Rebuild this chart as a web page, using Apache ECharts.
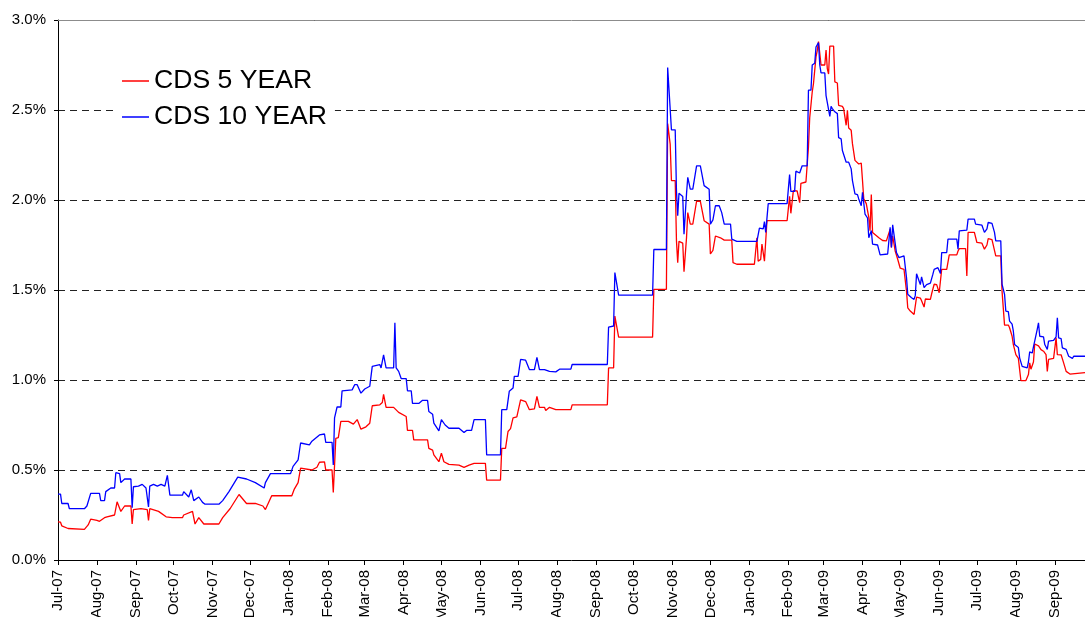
<!DOCTYPE html>
<html><head><meta charset="utf-8">
<script src="https://cdn.jsdelivr.net/npm/echarts@6/dist/echarts.min.js"></script>
<style>html,body{margin:0;padding:0;background:#fff}#c{width:1085px;height:617px}</style>
</head><body><div id="c"></div>
<script>
const seriesNames = ['CDS 5 YEAR', 'CDS 10 YEAR'];
const monthNames = ['Jan','Feb','Mar','Apr','May','Jun','Jul','Aug','Sep','Oct','Nov','Dec'];
const yTicks = [0, 0.5, 1.0, 1.5, 2.0, 2.5, 3.0];

const cds10Dates = ['2007-07-01','2007-07-03','2007-07-04','2007-07-09','2007-07-10','2007-07-22','2007-07-24','2007-07-27','2007-08-03','2007-08-04','2007-08-07','2007-08-08','2007-08-12','2007-08-15','2007-08-16','2007-08-19','2007-08-20','2007-08-23','2007-08-28','2007-08-29','2007-08-30','2007-09-03','2007-09-06','2007-09-09','2007-09-11','2007-09-12','2007-09-15','2007-09-18','2007-09-21','2007-09-24','2007-09-26','2007-09-28','2007-10-08','2007-10-09','2007-10-13','2007-10-15','2007-10-17','2007-10-21','2007-10-24','2007-10-26','2007-11-06','2007-11-09','2007-11-14','2007-11-21','2007-11-28','2007-12-05','2007-12-12','2007-12-13','2007-12-17','2008-01-02','2008-01-04','2008-01-08','2008-01-10','2008-01-17','2008-01-19','2008-01-25','2008-01-29','2008-01-30','2008-02-04','2008-02-05','2008-02-06','2008-02-08','2008-02-11','2008-02-12','2008-02-20','2008-02-22','2008-02-24','2008-02-27','2008-03-01','2008-03-05','2008-03-07','2008-03-13','2008-03-14','2008-03-16','2008-03-18','2008-03-24','2008-03-25','2008-03-26','2008-03-28','2008-03-30','2008-04-03','2008-04-04','2008-04-07','2008-04-08','2008-04-13','2008-04-16','2008-04-20','2008-04-21','2008-04-24','2008-04-25','2008-04-29','2008-05-01','2008-05-04','2008-05-07','2008-05-15','2008-05-19','2008-05-21','2008-05-25','2008-05-27','2008-06-05','2008-06-06','2008-06-17','2008-06-18','2008-06-22','2008-06-24','2008-06-27','2008-06-28','2008-07-01','2008-07-03','2008-07-07','2008-07-10','2008-07-14','2008-07-16','2008-07-18','2008-07-22','2008-07-26','2008-07-31','2008-08-03','2008-08-12','2008-08-13','2008-09-10','2008-09-11','2008-09-15','2008-09-16','2008-09-19','2008-10-16','2008-10-17','2008-10-27','2008-10-28','2008-10-31','2008-11-03','2008-11-04','2008-11-05','2008-11-06','2008-11-09','2008-11-10','2008-11-12','2008-11-13','2008-11-15','2008-11-17','2008-11-20','2008-11-23','2008-11-26','2008-11-30','2008-12-01','2008-12-03','2008-12-05','2008-12-08','2008-12-10','2008-12-12','2008-12-17','2008-12-18','2008-12-22','2009-01-07','2009-01-08','2009-01-09','2009-01-12','2009-01-13','2009-01-14','2009-01-16','2009-01-31','2009-02-02','2009-02-03','2009-02-06','2009-02-07','2009-02-10','2009-02-11','2009-02-12','2009-02-16','2009-02-17','2009-02-19','2009-02-20','2009-02-22','2009-02-23','2009-02-25','2009-02-26','2009-02-27','2009-03-02','2009-03-03','2009-03-04','2009-03-06','2009-03-07','2009-03-08','2009-03-10','2009-03-12','2009-03-13','2009-03-15','2009-03-16','2009-03-19','2009-03-21','2009-03-23','2009-03-24','2009-03-26','2009-03-28','2009-03-29','2009-03-31','2009-04-01','2009-04-03','2009-04-05','2009-04-06','2009-04-08','2009-04-09','2009-04-13','2009-04-15','2009-04-21','2009-04-23','2009-04-24','2009-04-25','2009-04-26','2009-04-28','2009-04-30','2009-05-01','2009-05-04','2009-05-06','2009-05-07','2009-05-10','2009-05-12','2009-05-13','2009-05-14','2009-05-16','2009-05-17','2009-05-18','2009-05-20','2009-05-22','2009-05-25','2009-05-27','2009-05-28','2009-05-29','2009-05-31','2009-06-02','2009-06-03','2009-06-07','2009-06-08','2009-06-15','2009-06-16','2009-06-17','2009-06-23','2009-06-24','2009-06-29','2009-06-30','2009-07-05','2009-07-07','2009-07-09','2009-07-10','2009-07-13','2009-07-15','2009-07-16','2009-07-20','2009-07-21','2009-07-23','2009-07-24','2009-07-26','2009-07-27','2009-07-29','2009-07-30','2009-07-31','2009-08-03','2009-08-04','2009-08-06','2009-08-10','2009-08-11','2009-08-12','2009-08-14','2009-08-15','2009-08-16','2009-08-18','2009-08-19','2009-08-20','2009-08-23','2009-08-24','2009-08-26','2009-08-27','2009-08-31','2009-09-02','2009-09-03','2009-09-04','2009-09-06','2009-09-07','2009-09-10','2009-09-12','2009-09-15','2009-09-16','2009-09-25'];
const cds10Values = [0.366,0.366,0.314,0.314,0.286,0.285,0.30,0.37,0.37,0.33,0.33,0.38,0.40,0.40,0.485,0.48,0.43,0.45,0.45,0.29,0.407,0.41,0.42,0.40,0.295,0.41,0.42,0.41,0.42,0.41,0.47,0.36,0.36,0.38,0.35,0.39,0.33,0.35,0.32,0.31,0.31,0.33,0.38,0.46,0.45,0.43,0.40,0.43,0.48,0.48,0.52,0.556,0.65,0.64,0.66,0.695,0.70,0.654,0.654,0.528,0.79,0.85,0.85,0.94,0.945,0.974,0.974,0.927,0.95,0.965,1.076,1.086,1.067,1.14,1.067,1.067,1.318,1.067,1.048,1.008,1.008,0.94,0.94,0.87,0.87,0.887,0.887,0.825,0.81,0.76,0.717,0.78,0.75,0.732,0.732,0.708,0.72,0.72,0.78,0.78,0.584,0.584,0.835,0.835,0.937,0.955,1.02,1.02,1.114,1.11,1.058,1.058,1.126,1.058,1.058,1.048,1.045,1.06,1.06,1.086,1.086,1.294,1.30,1.597,1.472,1.472,1.725,1.725,2.736,2.39,2.39,2.05,1.913,2.037,2.02,1.81,2.034,2.126,2.06,2.06,2.19,2.19,2.08,2.06,1.866,1.89,1.968,1.968,1.93,1.866,1.866,1.783,1.77,1.77,1.76,1.844,1.84,1.88,1.82,1.98,1.98,2.141,2.048,2.048,2.16,2.15,2.14,2.19,2.19,2.61,2.61,2.75,2.76,2.85,2.874,2.75,2.706,2.706,2.58,2.57,2.465,2.52,2.508,2.49,2.48,2.346,2.34,2.275,2.21,2.21,2.173,2.108,2.034,2.03,2.006,1.968,2.043,1.922,1.90,1.79,1.83,1.755,1.75,1.695,1.70,1.848,1.736,1.862,1.86,1.708,1.68,1.69,1.69,1.569,1.476,1.457,1.448,1.47,1.59,1.55,1.53,1.573,1.513,1.53,1.538,1.588,1.615,1.624,1.624,1.591,1.708,1.708,1.783,1.783,1.727,1.829,1.833,1.894,1.894,1.866,1.86,1.82,1.84,1.875,1.87,1.82,1.773,1.773,1.532,1.476,1.383,1.38,1.327,1.31,1.271,1.197,1.18,1.123,1.076,1.067,1.10,1.156,1.15,1.184,1.184,1.281,1.318,1.243,1.24,1.197,1.17,1.216,1.22,1.24,1.346,1.234,1.23,1.178,1.17,1.132,1.12,1.132,1.132];

const cds5Dates = ['2007-07-01','2007-07-03','2007-07-04','2007-07-09','2007-07-22','2007-07-25','2007-07-27','2007-08-01','2007-08-03','2007-08-07','2007-08-09','2007-08-15','2007-08-17','2007-08-20','2007-08-23','2007-08-28','2007-08-29','2007-08-30','2007-09-05','2007-09-10','2007-09-11','2007-09-12','2007-09-19','2007-09-25','2007-09-30','2007-10-08','2007-10-09','2007-10-16','2007-10-18','2007-10-21','2007-10-25','2007-11-01','2007-11-06','2007-11-09','2007-11-15','2007-11-22','2007-11-28','2007-12-05','2007-12-11','2007-12-13','2007-12-18','2008-01-03','2008-01-05','2008-01-08','2008-01-10','2008-01-19','2008-01-23','2008-01-25','2008-01-29','2008-01-30','2008-02-04','2008-02-05','2008-02-07','2008-02-09','2008-02-11','2008-02-17','2008-02-18','2008-02-21','2008-02-24','2008-02-27','2008-03-02','2008-03-05','2008-03-07','2008-03-13','2008-03-15','2008-03-16','2008-03-18','2008-03-24','2008-03-28','2008-04-03','2008-04-04','2008-04-08','2008-04-09','2008-04-20','2008-04-21','2008-04-24','2008-04-25','2008-04-29','2008-05-01','2008-05-03','2008-05-07','2008-05-15','2008-05-19','2008-05-23','2008-05-27','2008-06-05','2008-06-06','2008-06-17','2008-06-18','2008-06-21','2008-06-23','2008-06-25','2008-06-27','2008-06-30','2008-07-03','2008-07-07','2008-07-10','2008-07-14','2008-07-16','2008-07-18','2008-07-22','2008-07-23','2008-07-26','2008-07-31','2008-08-12','2008-08-13','2008-09-10','2008-09-11','2008-09-15','2008-09-16','2008-09-19','2008-10-16','2008-10-17','2008-10-27','2008-10-28','2008-10-30','2008-10-31','2008-11-03','2008-11-04','2008-11-05','2008-11-06','2008-11-09','2008-11-10','2008-11-12','2008-11-13','2008-11-15','2008-11-17','2008-11-20','2008-11-23','2008-11-26','2008-11-30','2008-12-01','2008-12-03','2008-12-05','2008-12-09','2008-12-12','2008-12-18','2008-12-19','2008-12-22','2009-01-05','2009-01-07','2009-01-08','2009-01-10','2009-01-11','2009-01-13','2009-01-15','2009-01-31','2009-02-02','2009-02-03','2009-02-05','2009-02-08','2009-02-10','2009-02-11','2009-02-15','2009-02-17','2009-02-18','2009-02-20','2009-02-21','2009-02-23','2009-02-24','2009-02-25','2009-02-27','2009-03-02','2009-03-03','2009-03-04','2009-03-05','2009-03-06','2009-03-09','2009-03-10','2009-03-12','2009-03-13','2009-03-16','2009-03-17','2009-03-19','2009-03-20','2009-03-21','2009-03-23','2009-03-24','2009-03-26','2009-03-29','2009-03-31','2009-04-01','2009-04-02','2009-04-04','2009-04-06','2009-04-07','2009-04-08','2009-04-09','2009-04-14','2009-04-17','2009-04-20','2009-04-21','2009-04-23','2009-04-24','2009-04-25','2009-04-27','2009-04-29','2009-05-01','2009-05-04','2009-05-06','2009-05-07','2009-05-09','2009-05-12','2009-05-13','2009-05-14','2009-05-17','2009-05-18','2009-05-20','2009-05-21','2009-05-25','2009-05-26','2009-05-28','2009-05-30','2009-06-01','2009-06-03','2009-06-07','2009-06-09','2009-06-15','2009-06-16','2009-06-17','2009-06-22','2009-06-23','2009-06-24','2009-06-29','2009-07-01','2009-07-05','2009-07-07','2009-07-09','2009-07-10','2009-07-13','2009-07-16','2009-07-20','2009-07-21','2009-07-23','2009-07-26','2009-07-27','2009-07-29','2009-07-30','2009-08-01','2009-08-03','2009-08-04','2009-08-05','2009-08-09','2009-08-11','2009-08-12','2009-08-13','2009-08-15','2009-08-16','2009-08-19','2009-08-21','2009-08-23','2009-08-25','2009-08-26','2009-08-27','2009-08-31','2009-09-02','2009-09-03','2009-09-06','2009-09-08','2009-09-10','2009-09-13','2009-09-14','2009-09-25'];
const cds5Values = [0.212,0.21,0.19,0.175,0.17,0.195,0.227,0.22,0.215,0.235,0.24,0.25,0.323,0.27,0.30,0.30,0.20,0.28,0.285,0.28,0.22,0.285,0.27,0.24,0.235,0.235,0.25,0.27,0.20,0.235,0.20,0.20,0.20,0.235,0.286,0.364,0.314,0.314,0.30,0.28,0.357,0.357,0.394,0.43,0.51,0.50,0.515,0.543,0.545,0.50,0.50,0.375,0.676,0.68,0.77,0.77,0.78,0.755,0.78,0.727,0.74,0.76,0.857,0.862,0.875,0.92,0.848,0.848,0.82,0.797,0.72,0.72,0.667,0.667,0.62,0.61,0.584,0.546,0.593,0.546,0.531,0.527,0.515,0.527,0.537,0.537,0.444,0.444,0.62,0.62,0.714,0.73,0.79,0.795,0.89,0.88,0.835,0.84,0.909,0.848,0.848,0.83,0.848,0.835,0.835,0.862,0.862,1.067,1.067,1.355,1.238,1.238,1.504,1.504,2.424,2.31,2.108,2.108,1.773,1.652,1.77,1.76,1.602,1.79,1.93,1.866,1.866,1.993,1.993,1.885,1.866,1.70,1.72,1.80,1.79,1.777,1.777,1.652,1.643,1.643,1.79,1.66,1.67,1.755,1.66,1.885,1.885,2.02,1.926,2.052,2.05,1.985,2.093,2.10,2.293,2.457,2.60,2.647,2.795,2.83,2.88,2.75,2.75,2.833,2.73,2.70,2.855,2.855,2.656,2.65,2.526,2.52,2.508,2.415,2.498,2.40,2.387,2.313,2.22,2.20,2.205,2.108,2.006,1.98,1.903,1.829,2.03,1.82,1.79,1.775,1.773,1.78,1.838,1.736,1.80,1.717,1.671,1.621,1.615,1.494,1.401,1.383,1.364,1.355,1.46,1.455,1.44,1.405,1.45,1.448,1.479,1.532,1.53,1.485,1.615,1.615,1.695,1.695,1.717,1.73,1.73,1.578,1.82,1.82,1.764,1.76,1.727,1.75,1.786,1.78,1.69,1.69,1.494,1.305,1.305,1.29,1.243,1.197,1.141,1.12,1.058,0.997,0.997,1.03,1.095,1.06,1.10,1.20,1.19,1.169,1.16,1.141,1.048,1.114,1.12,1.234,1.141,1.14,1.095,1.048,1.033,1.041,1.041];

const xMin = '2007-07-01';
const xMax = '2009-09-25';

function pairs(d, v) { return d.map((x, i) => [x, v[i]]); }
const FONT = 'Liberation Sans, Arial, sans-serif';

const chart = echarts.init(document.getElementById('c'), null, {renderer: 'canvas'});
chart.setOption({
  animation: false,
  backgroundColor: '#ffffff',
  grid: {left: 58, right: 0, top: 20, bottom: 57, containLabel: false, outerBoundsMode: 'none'},
  legend: {
    data: seriesNames,
    orient: 'vertical',
    left: 113, top: 60,
    padding: [6, 8, 6, 9],
    backgroundColor: '#ffffff',
    icon: 'rect',
    itemWidth: 27, itemHeight: 1.5, itemGap: 6,
    textStyle: {fontFamily: FONT, fontSize: 26.6, color: '#000', lineHeight: 30},
    selectedMode: false
  },
  xAxis: [{
    type: 'time', min: xMin, max: xMax,
    minInterval: 28 * 86400000, maxInterval: 31 * 86400000,
    axisLine: {show: true, lineStyle: {color: '#000', width: 1}},
    axisTick: {show: true, length: 5, lineStyle: {color: '#000'}},
    axisLabel: {
      rotate: 90, margin: 10, fontFamily: FONT, fontSize: 15, color: '#000',
      hideOverlap: false, showMinLabel: true, showMaxLabel: false,
      formatter: function (val) {
        const d = new Date(val);
        const yy = String(d.getFullYear() % 100).padStart(2, '0');
        return monthNames[d.getMonth()] + '-' + yy;
      }
    },
    splitLine: {show: false}
  }, {
    type: 'time', min: xMin, max: xMax, position: 'top',
    axisLine: {show: true, lineStyle: {color: '#8c8c8c', width: 1}},
    axisTick: {show: false}, axisLabel: {show: false}, splitLine: {show: false}
  }],
  yAxis: {
    type: 'value', min: yTicks[0], max: yTicks[yTicks.length - 1], interval: 0.5,
    axisLine: {show: true, lineStyle: {color: '#000', width: 1}},
    axisTick: {show: true, length: 4, lineStyle: {color: '#000'}},
    axisLabel: {margin: 12, fontFamily: FONT, fontSize: 15, color: '#000',
      formatter: v => v.toFixed(1) + '%'},
    splitLine: {show: true, lineStyle: {color: '#222', type: [7, 5], width: 1}}
  },
  series: [{
    name: seriesNames[0], type: 'line', xAxisIndex: 0,
    data: pairs(cds5Dates, cds5Values),
    symbol: 'none', showSymbol: false,
    lineStyle: {color: '#ff0000', width: 1.3}, itemStyle: {color: '#ff0000'}
  }, {
    name: seriesNames[1], type: 'line', xAxisIndex: 0,
    data: pairs(cds10Dates, cds10Values),
    symbol: 'none', showSymbol: false,
    lineStyle: {color: '#0000ff', width: 1.3}, itemStyle: {color: '#0000ff'}
  }]
});
</script></body></html>
